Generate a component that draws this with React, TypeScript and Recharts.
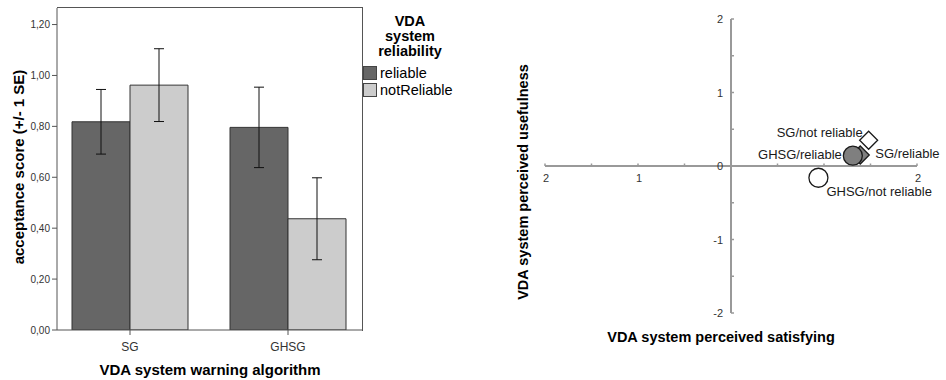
import React from "react";
import {
  BarChart,
  Bar,
  XAxis,
  YAxis,
  ErrorBar,
  Legend,
  ScatterChart,
  Scatter,
  ReferenceLine,
  ReferenceDot,
} from "recharts";

const FONT = '"Liberation Sans", Arial, sans-serif';

// acceptance score (mean, +/- 1 SE) per warning algorithm
const algorithms = ["SG", "GHSG"];
const reliabilityLevels = ["reliable", "notReliable"];
const reliableMean = [0.818, 0.796];
const reliableSE = [0.127, 0.158];
const notReliableMean = [0.962, 0.437];
const notReliableSE = [0.143, 0.161];
const acceptanceTicks = [0, 0.2, 0.4, 0.6, 0.8, 1.0, 1.2];

// perceived satisfying vs. perceived usefulness per group
const groupNames = ["SG/not reliable", "SG/reliable", "GHSG/reliable", "GHSG/not reliable"];
const satisfying = [1.48, 1.39, 1.31, 0.94];
const usefulness = [0.35, 0.15, 0.14, -0.16];
const satisfyingTicks = [-2, -1.5, -1, -0.5, 0.5, 1, 1.5, 2];
const satisfyingTickText = ["2", "", "1", "", "", "1", "", "2"];
const usefulnessTicks = [-2, -1.5, -1, -0.5, 0, 0.5, 1, 1.5, 2];
const usefulnessTickText = ["-2", "", "-1", "", "0", "", "1", "", "2"];

const barData = algorithms.map((algorithm, i) => ({
  algorithm,
  reliable: reliableMean[i],
  reliableSE: reliableSE[i],
  notReliable: notReliableMean[i],
  notReliableSE: notReliableSE[i],
}));

// marker look and label placement for each group
const groupStyles = [
  { kind: "diamond", fill: "#ffffff", dx: -6, dy: -8, anchor: "end" },
  { kind: "diamond", fill: "#7f7f7f", dx: 15, dy: -1, anchor: "start" },
  { kind: "circle", fill: "#7f7f7f", dx: -11, dy: -1, anchor: "end" },
  { kind: "circle", fill: "#ffffff", dx: 8, dy: 14, anchor: "start" },
];

const comma = (v: number) => v.toFixed(2).replace(".", ",");

const Title = ({ x, y, text, size = 15, rotate = false }: any) => (
  <div
    style={{
      position: "absolute",
      left: x,
      top: y,
      transform: `translate(-50%, -50%)${rotate ? " rotate(-90deg)" : ""}`,
      whiteSpace: "nowrap",
      fontFamily: FONT,
      fontWeight: "bold",
      fontSize: size,
      color: "#000",
    }}
  >
    {text}
  </div>
);

const renderLegend = (props: any) => {
  const items = [...(props.payload || [])].sort(
    (a: any, b: any) => reliabilityLevels.indexOf(a.value) - reliabilityLevels.indexOf(b.value)
  );
  return (
    <div style={{ fontFamily: FONT, color: "#000" }}>
      <div
        style={{
          fontWeight: "bold",
          fontSize: 14.5,
          lineHeight: "15px",
          textAlign: "center",
        }}
      >
        VDA
        <br />
        system
        <br />
        reliability
      </div>
      <div style={{ marginTop: 5, paddingLeft: 3 }}>
        {items.map((entry: any) => (
          <div
            key={entry.value}
            style={{ display: "flex", alignItems: "center", height: 17, fontSize: 14.5 }}
          >
            <span
              style={{
                width: 12,
                height: 12,
                background: entry.color,
                border: "1px solid #444",
                marginRight: 3,
              }}
            />
            {entry.value}
          </div>
        ))}
      </div>
    </div>
  );
};

const makeMarker = (style: any) => (props: any) => {
  const { cx, cy, payload } = props;
  const r = style.kind === "circle" ? 9.5 : 9;
  const marker =
    style.kind === "circle" ? (
      <circle cx={cx} cy={cy} r={r} fill={style.fill} stroke="#1a1a1a" strokeWidth={1.3} />
    ) : (
      <polygon
        points={`${cx},${cy - r} ${cx + r},${cy} ${cx},${cy + r} ${cx - r},${cy}`}
        fill={style.fill}
        stroke="#1a1a1a"
        strokeWidth={1.3}
      />
    );
  return (
    <g>
      {marker}
      <text
        x={cx + style.dx}
        y={cy + style.dy}
        textAnchor={style.anchor}
        dominantBaseline="central"
        fontFamily={FONT}
        fontSize={13}
        fill="#1a1a1a"
      >
        {payload.name}
      </text>
    </g>
  );
};

const xTick = (text: string) => (props: any) => (
  <g>
    <line x1={props.cx} y1={props.cy - 2.5} x2={props.cx} y2={props.cy} stroke="#999" strokeWidth={1.5} />
    <text
      x={props.cx + 1}
      y={props.cy + 12}
      textAnchor="middle"
      dominantBaseline="central"
      fontFamily={FONT}
      fontSize={11}
      fill="#333"
    >
      {text}
    </text>
  </g>
);

const yTick = (text: string, mark: boolean) => (props: any) => (
  <g>
    {mark && (
      <line x1={props.cx} y1={props.cy} x2={props.cx + 3} y2={props.cy} stroke="#999" strokeWidth={1.5} />
    )}
    <text
      x={props.cx - 8}
      y={props.cy}
      textAnchor="end"
      dominantBaseline="central"
      fontFamily={FONT}
      fontSize={11}
      fill="#333"
    >
      {text}
    </text>
  </g>
);

export default function App() {
  return (
    <div
      style={{
        position: "absolute",
        left: 0,
        top: 0,
        width: 946,
        height: 380,
        background: "#fff",
        overflow: "hidden",
      }}
    >
      <div style={{ position: "absolute", left: 0, top: 0 }}>
        <BarChart
          width={470}
          height={380}
          data={barData}
          margin={{ top: 8, right: 108, bottom: 20, left: 0 }}
          barSize={58}
          barGap={0}
        >
          <XAxis
            dataKey="algorithm"
            height={30}
            padding={{ left: -6, right: -5 }}
            stroke="#555"
            tickSize={5}
            tickMargin={7}
            tick={{ fill: "#333", fontSize: 12, fontFamily: FONT }}
          />
          <YAxis
            width={57}
            domain={[0, 1.265]}
            ticks={acceptanceTicks}
            tickFormatter={comma}
            allowDataOverflow
            stroke="#555"
            tickSize={5}
            tick={{ fill: "#333", fontSize: 10, fontFamily: FONT }}
          />
          <Legend
            layout="horizontal"
            verticalAlign="middle"
            align="center"
            wrapperStyle={{ left: 360, top: 14, width: 100, height: "auto" }}
            content={renderLegend}
          />
          <Bar dataKey="reliable" name="reliable" fill="#666666" stroke="#333" strokeWidth={1} isAnimationActive={false}>
            <ErrorBar dataKey="reliableSE" width={5} stroke="#111" strokeWidth={1} />
          </Bar>
          <Bar dataKey="notReliable" name="notReliable" fill="#cccccc" stroke="#333" strokeWidth={1} isAnimationActive={false}>
            <ErrorBar dataKey="notReliableSE" width={5} stroke="#111" strokeWidth={1} />
          </Bar>
        </BarChart>
        {/* top and right edges of the plot frame */}
        <div
          style={{
            position: "absolute",
            left: 57,
            top: 7,
            width: 305,
            height: 323,
            borderTop: "1px solid #555",
            borderRight: "1px solid #555",
            pointerEvents: "none",
          }}
        />
        <Title x={18} y={167} text="acceptance score (+/- 1 SE)" rotate />
        <Title x={210} y={369} text="VDA system warning algorithm" />
      </div>

      <div style={{ position: "absolute", left: 500, top: 0 }}>
        <ScatterChart width={446} height={380} margin={{ top: 19, right: 29, bottom: 67, left: 45 }}>
          <XAxis type="number" dataKey="x" domain={[-2, 2]} hide />
          <YAxis type="number" dataKey="y" domain={[-2, 2]} hide />
          <ReferenceLine y={0} stroke="#999" strokeWidth={2} />
          <ReferenceLine x={0} stroke="#999" strokeWidth={2} />
          {satisfyingTicks.map((v, i) => (
            <ReferenceDot
              key={`sx${v}`}
              x={v}
              y={0}
              r={0}
              ifOverflow="visible"
              shape={xTick(satisfyingTickText[i])}
            />
          ))}
          {usefulnessTicks.map((v, i) => (
            <ReferenceDot
              key={`uy${v}`}
              x={0}
              y={v}
              r={0}
              ifOverflow="visible"
              shape={yTick(usefulnessTickText[i], v !== 0)}
            />
          ))}
          {groupNames.map((name, i) => (
            <Scatter
              key={name}
              name={name}
              data={[{ name, x: satisfying[i], y: usefulness[i] }]}
              shape={makeMarker(groupStyles[i])}
              isAnimationActive={false}
            />
          ))}
        </ScatterChart>
        <Title x={23} y={182} text="VDA system perceived usefulness" size={14.5} rotate />
        <Title x={221} y={337} text="VDA system perceived satisfying" size={14.5} />
      </div>
    </div>
  );
}
